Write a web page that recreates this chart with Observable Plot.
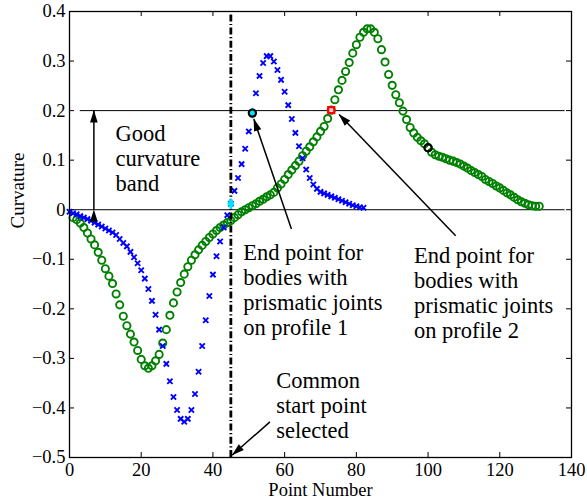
<!DOCTYPE html>
<html>
<head>
<meta charset="utf-8">
<script src="https://cdn.jsdelivr.net/npm/d3@7"></script>
<script src="https://cdn.jsdelivr.net/npm/@observablehq/plot@0.6"></script>
<style>
  html, body { margin: 0; padding: 0; background: #fff; }
  #chart svg { display: block; }
  #chart svg, #chart svg text { font-family: "Liberation Serif", "Times New Roman", serif !important; }
</style>
</head>
<body>
<div id="chart"></div>
<script>
// ---- Data ----
// Profile 1 (blue x markers), point numbers 0..82
const blueX = d3.range(0, 83);
const blueY = [
  -0.004, -0.007, -0.009, -0.013, -0.016, -0.019, -0.022, -0.026, -0.030, -0.034,
  -0.038, -0.042, -0.046, -0.051, -0.059, -0.067, -0.074, -0.085, -0.096, -0.108,
  -0.122, -0.139, -0.160, -0.184, -0.212, -0.242, -0.275, -0.311, -0.346, -0.378,
  -0.404, -0.422, -0.428, -0.422, -0.404, -0.372, -0.327, -0.275, -0.223, -0.174,
  -0.131, -0.094, -0.064, -0.036, -0.011, 0.012, 0.038, 0.064, 0.092, 0.123,
  0.158, 0.195, 0.235, 0.270, 0.296, 0.310, 0.310, 0.299, 0.282, 0.262,
  0.238, 0.211, 0.183, 0.155, 0.128, 0.104, 0.081, 0.064, 0.051, 0.042,
  0.036, 0.033, 0.030, 0.027, 0.024, 0.021, 0.018, 0.015, 0.012, 0.009,
  0.007, 0.005, 0.004
];
// Profile 2 (green circles), point numbers 1..131
const greenX = d3.range(1, 132);
const greenY = [
  -0.016, -0.020, -0.027, -0.036, -0.047, -0.059, -0.071, -0.086, -0.102, -0.119,
  -0.134, -0.149, -0.170, -0.192, -0.215, -0.234, -0.251, -0.267, -0.284, -0.302,
  -0.315, -0.320, -0.315, -0.305, -0.292, -0.269, -0.242, -0.213, -0.188, -0.166,
  -0.147, -0.130, -0.115, -0.102, -0.091, -0.081, -0.072, -0.064, -0.056, -0.049,
  -0.042, -0.036, -0.031, -0.026, -0.022, -0.016, -0.010, -0.004, 0.000, 0.004,
  0.008, 0.012, 0.017, 0.021, 0.026, 0.030, 0.035, 0.044, 0.052, 0.061,
  0.071, 0.080, 0.089, 0.098, 0.109, 0.118, 0.127, 0.137, 0.147, 0.158,
  0.168, 0.184, 0.201, 0.222, 0.242, 0.261, 0.279, 0.297, 0.316, 0.333,
  0.348, 0.358, 0.365, 0.365, 0.358, 0.345, 0.323, 0.298, 0.273, 0.251,
  0.232, 0.216, 0.199, 0.182, 0.166, 0.155, 0.146, 0.139, 0.133, 0.125,
  0.116, 0.111, 0.108, 0.106, 0.103, 0.100, 0.098, 0.095, 0.092, 0.088,
  0.084, 0.079, 0.075, 0.071, 0.067, 0.061, 0.057, 0.053, 0.048, 0.044,
  0.039, 0.034, 0.030, 0.025, 0.020, 0.016, 0.013, 0.010, 0.008, 0.007,
  0.007
];

// Highlighted points (point numbers)
const commonStart = 45;          // common start point (cyan, profile 1) + dashed line
const endPoint1 = 51;            // end point on profile 1 (cyan + black ring)
const endPoint2 = 73;            // end point on profile 2 (red square)
const blackRingPoint2 = 100;     // black ring on profile 2

// Axis ticks
const xTicks = [0, 20, 40, 60, 80, 100, 120, 140];
const xTickLabels = ["0", "20", "40", "60", "80", "100", "120", "140"];
const yTicks = [-0.5, -0.4, -0.3, -0.2, -0.1, 0, 0.1, 0.2, 0.3, 0.4];
const yTickLabels = ["\u22120.5", "\u22120.4", "\u22120.3", "\u22120.2", "\u22120.1", "0", "0.1", "0.2", "0.3", "0.4"];

// Good curvature band limits
const bandLevels = [0, 0.2];
const bandStarts = [0.3, 3];
const bandEnd = 138.2;

// Annotation texts and anchors (data coordinates)
const noteTexts = [
  "Good\ncurvature\nband",
  "End point for\nbodies with\nprismatic joints\non profile 1",
  "End point for\nbodies with\nprismatic joints\non profile 2",
  "Common\nstart point\nselected"
];
const noteX = [12.8, 48.45, 96.05, 57.65];
const noteY = [0.175, -0.0653, -0.0727, -0.3246];

// Arrows: tail -> head (data coordinates)
const arrowX1 = [61.9, 107.7, 55.9];
const arrowY1 = [-0.039, -0.0525, -0.428];
const arrowX2 = [51.4, 75.2, 45.4];
const arrowY2 = [0.183, 0.192, -0.495];
const bandArrowX = 6.8;

// ---- Build tables ----
const blue = blueX.map((x, i) => ({x, y: blueY[i]}));
const green = greenX.map((x, i) => ({x, y: greenY[i]}));
const blueAt = (n) => blue.find(d => d.x === n);
const greenAt = (n) => green.find(d => d.x === n);
const cyanPts = [blueAt(commonStart), blueAt(endPoint1)];
const blackPts = [blueAt(endPoint1), greenAt(blackRingPoint2)];
const redPts = [greenAt(endPoint2)];
const bands = bandLevels.map((y, i) => ({y, x1: bandStarts[i], x2: bandEnd}));
const notes = noteTexts.map((text, i) => ({text, x: noteX[i], y: noteY[i]}));
const arrows = arrowX1.map((x1, i) => ({x1, y1: arrowY1[i], x2: arrowX2[i], y2: arrowY2[i]}));

const yLo = -0.5, yHi = 0.4, xLo = 0, xHi = 140;
const tickLenY = 5 / 446 * 0.9;
const tickLenX = 5 / 502 * 140;
const serif = "Liberation Serif";

const chart = Plot.plot({
  width: 587,
  height: 502,
  marginLeft: 69,
  marginRight: 16,
  marginTop: 11,
  marginBottom: 45,
  style: {fontFamily: serif, fontSize: "18.5px", background: "#fff", color: "#000"},
  x: {domain: [xLo, xHi], ticks: xTicks, tickSize: 0, tickPadding: 5, tickFormat: (d) => xTickLabels[xTicks.indexOf(d)], label: null},
  y: {domain: [yLo, yHi], ticks: yTicks, tickSize: 0, tickPadding: 4, tickFormat: (d) => yTickLabels[yTicks.findIndex(t => Math.abs(t - d) < 1e-9)], label: null},
  marks: [
    // inward ticks
    Plot.ruleX(xTicks, {x: d => d, y1: yLo, y2: yLo + tickLenY, stroke: "black", strokeWidth: 1}),
    Plot.ruleX(xTicks, {x: d => d, y1: yHi, y2: yHi - tickLenY, stroke: "black", strokeWidth: 1}),
    Plot.ruleY(yTicks, {y: d => d, x1: xLo, x2: xLo + tickLenX, stroke: "black", strokeWidth: 1}),
    Plot.ruleY(yTicks, {y: d => d, x1: xHi, x2: xHi - tickLenX, stroke: "black", strokeWidth: 1}),
    // band lines
    Plot.ruleY(bands, {y: "y", x1: "x1", x2: "x2", stroke: "black", strokeWidth: 1}),
    // series
    Plot.dot(green, {x: "x", y: "y", r: 3.6, stroke: "#008000", strokeWidth: 1.9, fill: "none"}),
    Plot.dot(blue, {x: "x", y: "y", symbol: "times", r: 2.5, stroke: "#0000ff", strokeWidth: 1.9}),
    // common start line
    Plot.ruleX([commonStart], {x: d => d, y1: yLo, y2: yHi, stroke: "black", strokeWidth: 2.8, strokeDasharray: "7,2.5,1.2,2.5"}),
    // highlighted points
    Plot.dot(cyanPts, {x: "x", y: "y", symbol: "diamond", r: 3.2, fill: "#00e5ff", stroke: "#00e5ff", strokeWidth: 1}),
    Plot.dot(blackPts, {x: "x", y: "y", r: 3.6, stroke: "black", strokeWidth: 2.2, fill: "none"}),
    Plot.dot(redPts, {x: "x", y: "y", symbol: "square", r: 3.4, stroke: "#ff0000", strokeWidth: 2.2, fill: "#ffd0d0"}),
    // arrows
    Plot.link([bandArrowX], {x1: d => d, x2: d => d, y1: bandLevels[0], y2: bandLevels[1], stroke: "black", strokeWidth: 1.5, markerStart: "arrow", markerEnd: "arrow"}),
    Plot.link(arrows, {x1: "x1", y1: "y1", x2: "x2", y2: "y2", stroke: "black", strokeWidth: 1.5, markerEnd: "arrow"}),
    // annotations
    Plot.text(notes, {x: "x", y: "y", text: "text", textAnchor: "start", lineAnchor: "top", lineHeight: 1.11, fontSize: 22.5, fontFamily: serif, fill: "black"}),
    // axis titles
    Plot.text(["Point Number"], {frameAnchor: "bottom", text: d => d, dy: 25, lineAnchor: "top", fontSize: 18.5, fontFamily: serif, fill: "black"}),
    Plot.text(["Curvature"], {frameAnchor: "left", text: d => d, dx: -51.5, dy: -6, rotate: -90, lineAnchor: "middle", fontSize: 19, fontFamily: serif, fill: "black"}),
    Plot.frame({stroke: "black", strokeWidth: 1.3})
  ]
});

// Turn Plot's open arrow markers into filled triangular heads
chart.querySelectorAll("marker").forEach((m) => {
  m.setAttribute("viewBox", "-13 -5 14 10");
  m.setAttribute("markerWidth", "14");
  m.setAttribute("markerHeight", "10");
  m.setAttribute("markerUnits", "userSpaceOnUse");
  m.setAttribute("fill", "black");
  m.setAttribute("stroke", "none");
  const p = m.querySelector("path");
  if (p) {
    p.setAttribute("d", "M-12,-3.8L0.5,0L-12,3.8Z");
    p.setAttribute("fill", "black");
    p.setAttribute("stroke", "none");
  }
});

document.getElementById("chart").appendChild(chart);
</script>
</body>
</html>
